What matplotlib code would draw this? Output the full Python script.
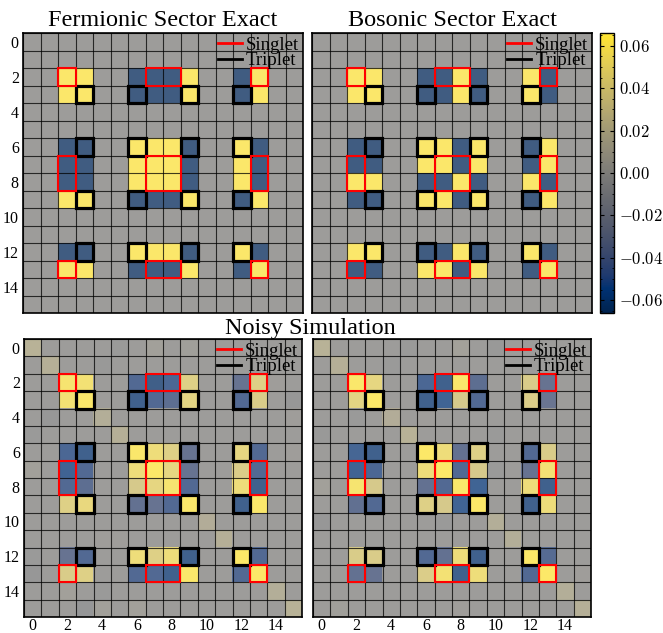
import numpy as np
import matplotlib.pyplot as plt
from matplotlib.patches import Rectangle
from matplotlib.lines import Line2D
from matplotlib.ticker import AutoMinorLocator

plt.rcParams['font.family'] = ['Liberation Serif', 'DejaVu Serif']
plt.rcParams['mathtext.fontset'] = 'cm'

# exact correlation maps: '+' / '-' -> +/- amp, '.' -> 0
amp = 0.0625
ferm_rows = [
    "................",
    "................",
    "..++..---+..-+..",
    "..++..---+..-+..",
    "................",
    "................",
    "..--..+++-..+-..",
    "..--..+++-..+-..",
    "..--..+++-..+-..",
    "..++..---+..-+..",
    "................",
    "................",
    "..--..+++-..+-..",
    "..++..---+..-+..",
    "................",
    "................",
]
bos_rows = [
    "................",
    "................",
    "..++..--+-..+-..",
    "..++..--+-..+-..",
    "................",
    "................",
    "..--..++-+..-+..",
    "..--..++-+..-+..",
    "..++..--+-..+-..",
    "..--..++-+..-+..",
    "................",
    "................",
    "..++..--+-..+-..",
    "..--..++-+..-+..",
    "................",
    "................",
]

# noisy simulation results, units of 1e-3
noisy_ferm_milli = [
    [20, 0, 0, 0, 0, -2, 0, 4, 0, 3, 0, 0, 0, 0, 0, 0],
    [0, 18, 0, 0, -3, 0, 0, 0, 0, 0, 0, 0, 0, 0, 0, 0],
    [0, 0, 60, 58, 0, 0, -50, -60, -52, 45, 0, 0, -40, 45, 2, 0],
    [0, 0, 58, 62, 0, 0, -58, -50, -45, 48, 0, 0, -50, 42, 0, -5],
    [0, -4, 0, 0, 16, 0, 0, 0, 0, 0, 0, 0, 0, 0, 0, 2],
    [-2, 0, 0, 0, 0, 18, 0, 0, 0, 0, 0, 0, 0, 0, 0, 0],
    [0, 0, -52, -58, 0, 0, 62, 55, 45, -40, 0, 0, 50, -50, 0, 2],
    [4, 0, -56, -50, 0, 0, 55, 63, 50, -40, 0, 0, 43, -50, 0, 0],
    [0, 0, -50, -45, 0, 0, 40, 50, 60, -50, 0, 0, 55, -58, 0, 0],
    [0, 0, 45, 52, 0, 0, -42, -40, -50, 62, 0, 0, -58, 62, 0, 0],
    [0, 0, 0, 0, 0, 0, 0, 0, 0, 0, 15, 0, 0, 0, 0, 0],
    [0, 0, 0, 0, 2, 2, 0, 0, 0, 0, 0, 18, 0, 0, 0, 0],
    [-2, 0, -40, -50, 0, 0, 55, 45, 55, -58, 0, 0, 63, -50, 0, 0],
    [-4, 0, 42, 45, 0, 0, -50, -50, -58, 62, 0, 0, -50, 63, 0, 0],
    [0, 0, 4, 0, -2, 0, 0, 0, 0, 0, 0, 0, 0, 0, 16, 0],
    [0, 0, 0, -6, 4, 0, 4, 0, 0, 0, 0, 0, 0, 0, 0, 20],
]
noisy_bos_milli = [
    [20, 0, 0, 0, 0, -2, 0, 0, 5, 0, -3, 0, 0, 0, 0, 0],
    [0, 18, 0, 0, -2, 0, 0, 0, 0, 0, 0, 0, 0, 0, 0, 0],
    [0, 0, 62, 50, 0, 0, -52, -58, 62, -45, 0, 0, 42, -40, 0, 0],
    [0, 0, 48, 63, 0, 0, -58, -55, 40, -50, 0, 0, 43, -38, 0, 0],
    [0, 0, -2, 0, 15, 0, 2, 0, 0, 0, 0, 0, 0, 0, 0, 0],
    [-3, 0, 0, 0, 0, 20, 0, 0, 0, 0, -2, 0, 0, 0, 0, 0],
    [0, 0, -53, -58, 0, 0, 63, 55, -42, 45, 0, 0, -50, 42, 0, 0],
    [0, 0, -56, -52, 0, 0, 55, 63, -50, 40, -2, 0, -40, 58, 0, 0],
    [4, 0, 60, 40, 0, 0, -42, -50, 62, -55, 0, 0, 55, -58, 0, 0],
    [0, 0, -43, -50, 0, 0, 45, 40, -55, 63, 0, 0, -58, 55, 0, 0],
    [-4, 0, 0, 0, 0, 0, 0, -2, 0, 0, 16, 0, 0, 0, 0, 0],
    [0, 0, 0, 0, 0, 0, 0, 0, 0, 0, 0, 16, 0, 0, 0, 0],
    [0, 0, 42, 42, 0, 0, -50, -42, 55, -58, 0, 0, 63, -48, 0, 0],
    [0, 0, -42, -40, 0, 0, 43, 58, -58, 55, 0, 0, -50, 63, 0, 2],
    [0, 0, 0, 0, 0, 0, 0, 0, 0, 0, 0, 0, 0, 0, 16, 0],
    [0, 3, 0, 0, 0, 0, 0, 0, 2, 0, 0, 0, 0, 0, 0, 18],
]

# (row, col, nrows, ncols)
singlet_boxes = [(2, 2, 1, 1), (2, 7, 1, 2), (2, 13, 1, 1),
                 (7, 2, 2, 1), (7, 7, 2, 2), (7, 13, 2, 1),
                 (13, 2, 1, 1), (13, 7, 1, 2), (13, 13, 1, 1)]
triplet_cells = [(3, 3), (3, 6), (3, 9), (3, 12),
                 (6, 3), (6, 6), (6, 9), (6, 12),
                 (9, 3), (9, 6), (9, 9), (9, 12),
                 (12, 3), (12, 6), (12, 9), (12, 12)]

vlim = 0.066
ticks = np.arange(0, 16, 2)
cb_ticks = [-0.06, -0.04, -0.02, 0.0, 0.02, 0.04, 0.06]


def signs_to_matrix(rows):
    lut = {'+': amp, '-': -amp, '.': 0.0}
    return np.array([[lut[ch] for ch in r] for r in rows])


def draw_map(ax, mat, left=False, bottom=False):
    im = ax.imshow(mat, cmap='cividis', vmin=-vlim, vmax=vlim, alpha=0.75)
    n = mat.shape[0]
    ax.set_xticks(np.arange(-0.5, n, 1), minor=True)
    ax.set_yticks(np.arange(-0.5, n, 1), minor=True)
    ax.grid(which='minor', color='k', lw=0.8, alpha=0.75)
    ax.tick_params(which='both', length=0, labelsize=11.5)
    ax.tick_params(axis='x', pad=0.5)
    ax.tick_params(axis='y', pad=3)
    ax.set_xticks(ticks if bottom else [])
    ax.set_yticks(ticks if left else [])
    for r, c in triplet_cells:
        ax.add_patch(Rectangle((c - 0.5, r - 0.5), 1, 1, fill=False,
                               ec='k', lw=2.3, zorder=3))
    for r, c, h, w in singlet_boxes:
        ax.add_patch(Rectangle((c - 0.5, r - 0.5), w, h, fill=False,
                               ec='red', lw=1.5, zorder=4))
    handles = [Line2D([], [], color='red', lw=2), Line2D([], [], color='k', lw=2)]
    ax.legend(handles, ['Singlet', 'Triplet'], loc='upper right', frameon=False,
              fontsize=13.5, handlelength=1.3, handletextpad=0.2,
              borderaxespad=0.2, borderpad=0.0, labelspacing=-0.1)
    for s in ax.spines.values():
        s.set_linewidth(1.2)
    return im


fig = plt.figure(figsize=(6.63, 6.33), dpi=100)
W, H = 663, 633


def add_ax(x0, y0, x1, y1):
    return fig.add_axes([x0 / W, 1 - y1 / H, (x1 - x0) / W, (y1 - y0) / H])


ax_tl = add_ax(23, 33, 303, 313)
ax_tr = add_ax(312, 33, 592, 313)
ax_bl = add_ax(23, 339, 303, 617)
ax_br = add_ax(312, 339, 592, 617)
cax = add_ax(600, 33, 614, 313)

im = draw_map(ax_tl, signs_to_matrix(ferm_rows), left=True)
draw_map(ax_tr, signs_to_matrix(bos_rows))
draw_map(ax_bl, np.array(noisy_ferm_milli) * 1e-3, left=True, bottom=True)
draw_map(ax_br, np.array(noisy_bos_milli) * 1e-3, bottom=True)

ax_tl.set_title('Fermionic Sector Exact', fontsize=17.5, pad=5)
ax_tr.set_title('Bosonic Sector Exact', fontsize=17.5, pad=5)
fig.text(310 / W, 1 - 334 / H, 'Noisy Simulation', fontsize=17.5,
         ha='center', va='baseline')

cb = fig.colorbar(im, cax=cax)
cb.solids.set_alpha(1)
cb.set_ticks(cb_ticks)
cb.set_ticklabels(['$%.2f$' % t for t in cb_ticks])
cb.ax.yaxis.set_minor_locator(AutoMinorLocator(4))
cb.ax.tick_params(which='both', direction='in', labelsize=12, left=True, right=True)
cb.ax.tick_params(which='major', length=3)
cb.ax.tick_params(which='minor', length=1.5)
cb.outline.set_linewidth(1.0)

fig.savefig('out.png', dpi=100)
